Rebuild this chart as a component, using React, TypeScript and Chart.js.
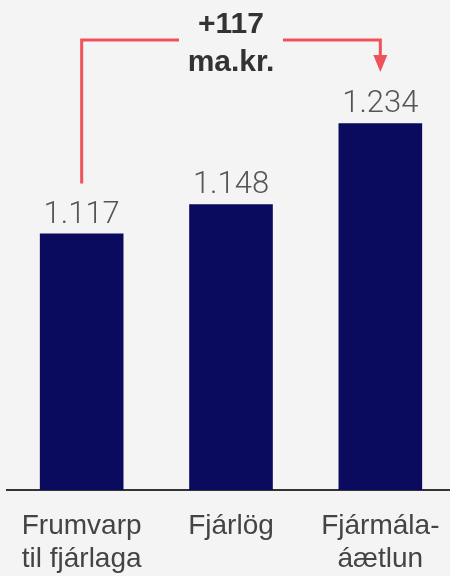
import React, { useEffect, useRef } from "react";
import { Chart, registerables } from "chart.js";

Chart.register(...registerables);

const categories: string[][] = [["Frumvarp", "til fjárlaga"], ["Fjárlög"], ["Fjármála-", "áætlun"]];
const values: number[] = [1117, 1148, 1234];
const unitLabel = "ma.kr.";
const yMin = 845;
const yMax = 1300;

const BG = "#f4f4f4";
const BAR = "#0a0a5e";
const RED = "#f0525c";

function fmt(n: number): string {
  return String(n).replace(/\B(?=(\d{3})+(?!\d))/g, ".");
}

const annotationPlugin = {
  id: "annot",
  afterDatasetsDraw(chart: any) {
    const ctx = chart.ctx as CanvasRenderingContext2D;
    const meta = chart.getDatasetMeta(0);
    const bars = meta.data;
    ctx.save();
    // value labels
    ctx.font = "300 31px Roboto";
    ctx.fillStyle = "#555555";
    ctx.textAlign = "center";
    ctx.textBaseline = "alphabetic";
    bars.forEach((b: any, i: number) => {
      ctx.fillText(fmt(values[i]), b.x, b.y - 11);
    });
    // bracket
    const first = bars[0];
    const last = bars[bars.length - 1];
    const mid = bars[1];
    const lineY = 40;
    const gap = 52;
    ctx.strokeStyle = RED;
    ctx.fillStyle = RED;
    ctx.lineWidth = 3;
    ctx.lineCap = "butt";
    ctx.beginPath();
    ctx.moveTo(first.x, first.y - 50);
    ctx.lineTo(first.x, lineY);
    ctx.lineTo(mid.x - gap, lineY);
    ctx.moveTo(mid.x + gap, lineY);
    ctx.lineTo(last.x, lineY);
    ctx.lineTo(last.x, 56);
    ctx.stroke();
    ctx.beginPath();
    ctx.moveTo(last.x - 7, 55);
    ctx.lineTo(last.x + 7, 55);
    ctx.lineTo(last.x, 72);
    ctx.closePath();
    ctx.fill();
    // diff text
    const diff = values[values.length - 1] - values[0];
    ctx.font = "bold 30px 'Liberation Sans'";
    ctx.fillStyle = "#333333";
    ctx.textAlign = "center";
    ctx.fillText("+" + fmt(diff), mid.x, 33);
    ctx.fillText(unitLabel, mid.x, 71);
    ctx.restore();
  },
};

export default function App() {
  const ref = useRef<HTMLCanvasElement | null>(null);
  useEffect(() => {
    if (!ref.current) return;
    const chart = new Chart(ref.current, {
      type: "bar",
      data: {
        labels: categories,
        datasets: [
          {
            data: values,
            backgroundColor: BAR,
            borderWidth: 0,
            barPercentage: 0.56,
            categoryPercentage: 1,
          },
        ],
      },
      options: {
        responsive: false,
        animation: false,
        devicePixelRatio: 1,
        layout: { padding: { left: 7, right: 1, top: 61, bottom: 0 } },
        plugins: { legend: { display: false }, tooltip: { enabled: false } },
        scales: {
          x: {
            grid: { display: false },
            border: { display: true, color: "#333333", width: 2 },
            ticks: {
              color: "#444444",
              font: { family: "'Liberation Sans'", size: 28, lineHeight: 1.18 },
              padding: 12,
              maxRotation: 0,
              autoSkip: false,
            },
          },
          y: { display: false, min: yMin, max: yMax },
        },
      },
      plugins: [annotationPlugin],
    });
    return () => chart.destroy();
  }, []);
  return (
    <div
      style={{
        position: "fixed",
        left: 0,
        top: 0,
        width: 450,
        height: 576,
        overflow: "hidden",
        background: BG,
      }}
    >
      <canvas ref={ref} width={456} height={588} style={{ width: 456, height: 588, display: "block" }} />
    </div>
  );
}
